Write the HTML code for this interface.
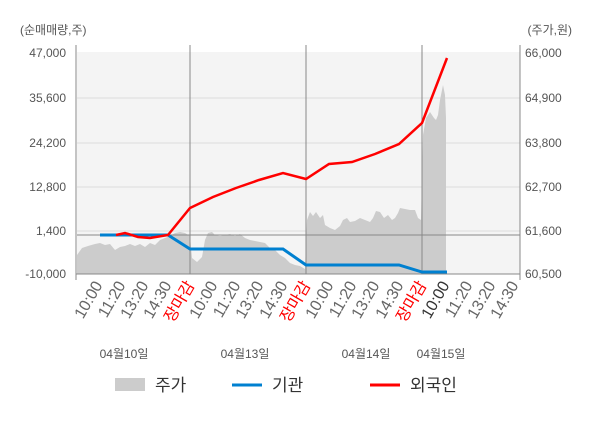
<!DOCTYPE html>
<html><head><meta charset="utf-8"><style>
body{margin:0;background:#fff;}
svg text{font-family:"Liberation Sans","Noto Sans CJK KR",sans-serif;}
</style></head><body>
<svg width="600" height="428" xmlns="http://www.w3.org/2000/svg">
<rect x="77" y="52" width="443" height="222" fill="#f4f4f4"/>
<g stroke="#dcdcdc" stroke-width="1">
<line x1="77" y1="98" x2="520" y2="98"/><line x1="77" y1="143" x2="520" y2="143"/>
<line x1="77" y1="187" x2="520" y2="187"/><line x1="77" y1="231" x2="520" y2="231"/>
</g>
<polygon fill="#cccccc" points="77,274 77,255 82,248 88,246 95,244 100,243 105,245 110,244 115,250 120,247 125,246 130,244 135,246 140,244 145,247 150,243 155,245 160,240 165,238 170,236 175,233 180,232 185,233 190,236 192,258 197,262 202,257 205,240 208,233 212,232 215,235 220,236 225,235 230,234 235,236 240,234 245,238 250,240 255,241 260,242 265,243 270,248 275,250 280,255 285,258 290,263 295,265 300,266 305,269 307,220 310,212 313,216 316,212 320,218 323,215 325,225 330,228 335,230 340,226 343,220 347,218 350,222 355,221 360,218 365,220 370,222 373,218 376,211 380,212 384,218 388,215 392,220 395,218 398,213 400,208 405,209 410,210 415,210 418,218 421,220 423,135 426,118 430,112 434,118 436,120 438,115 440,100 443,85 445,95 446,118 446,274"/>
<line x1="77" y1="235" x2="520" y2="235" stroke="#888" stroke-width="1"/>
<g stroke="#888" stroke-width="1">
<line x1="190" y1="45" x2="190" y2="274"/><line x1="306" y1="45" x2="306" y2="274"/><line x1="422" y1="45" x2="422" y2="274"/>
<line x1="76" y1="45" x2="76" y2="280"/><line x1="520" y1="45" x2="520" y2="280"/>
<line x1="76" y1="274" x2="520" y2="274"/>
</g>
<polyline fill="none" stroke="#0080d0" stroke-width="3" points="100,235 168,235 190,249 283,249 306,265 399,265 422,272 447,272"/>
<polyline fill="none" stroke="#ff0000" stroke-width="2.5" points="116,235 125,233 138,237 150,238 168,235 190,208 213,197 236,188 259,180 283,173 306,179 329,164 352,162 375,154 399,144 422,123 447,58"/>
<g font-size="12" fill="#555">
<text x="20" y="34">(순매매량,주)</text>
<text x="572" y="34" text-anchor="end">(주가,원)</text>
<g text-anchor="end">
<text x="66" y="57">47,000</text><text x="66" y="102">35,600</text><text x="66" y="147">24,200</text>
<text x="66" y="191">12,800</text><text x="66" y="235">1,400</text><text x="66" y="278">-10,000</text>
</g>
<text x="525" y="57">66,000</text><text x="525" y="102">64,900</text><text x="525" y="147">63,800</text>
<text x="525" y="191">62,700</text><text x="525" y="235">61,600</text><text x="525" y="278">60,500</text>
</g>
<g font-size="16" fill="#666" text-anchor="end">
<text transform="translate(103,285) rotate(-60)">10:00</text>
<text transform="translate(126,285) rotate(-60)">11:20</text>
<text transform="translate(149,285) rotate(-60)">13:20</text>
<text transform="translate(172,285) rotate(-60)">14:30</text>
<text transform="translate(195,285) rotate(-60)" fill="#f00">장마감</text>
<text transform="translate(218,285) rotate(-60)">10:00</text>
<text transform="translate(241,285) rotate(-60)">11:20</text>
<text transform="translate(264,285) rotate(-60)">13:20</text>
<text transform="translate(288,285) rotate(-60)">14:30</text>
<text transform="translate(311,285) rotate(-60)" fill="#f00">장마감</text>
<text transform="translate(334,285) rotate(-60)">10:00</text>
<text transform="translate(357,285) rotate(-60)">11:20</text>
<text transform="translate(380,285) rotate(-60)">13:20</text>
<text transform="translate(404,285) rotate(-60)">14:30</text>
<text transform="translate(427,285) rotate(-60)" fill="#f00">장마감</text>
<text transform="translate(450,285) rotate(-60)" fill="#333">10:00</text>
<text transform="translate(473,285) rotate(-60)">11:20</text>
<text transform="translate(496,285) rotate(-60)">13:20</text>
<text transform="translate(519,285) rotate(-60)">14:30</text>
</g>
<g font-size="12" fill="#555" text-anchor="middle">
<text x="124" y="358">04월10일</text><text x="245" y="358">04월13일</text>
<text x="366" y="358">04월14일</text><text x="441" y="358">04월15일</text>
</g>
<rect x="115" y="378" width="30" height="13" fill="#cccccc"/>
<line x1="232" y1="385" x2="262" y2="385" stroke="#0080d0" stroke-width="3"/>
<line x1="370" y1="385" x2="400" y2="385" stroke="#ff0000" stroke-width="3"/>
<g font-size="17" fill="#333">
<text x="155" y="391">주가</text><text x="272" y="391">기관</text><text x="410" y="391">외국인</text>
</g>
</svg>
</body></html>
